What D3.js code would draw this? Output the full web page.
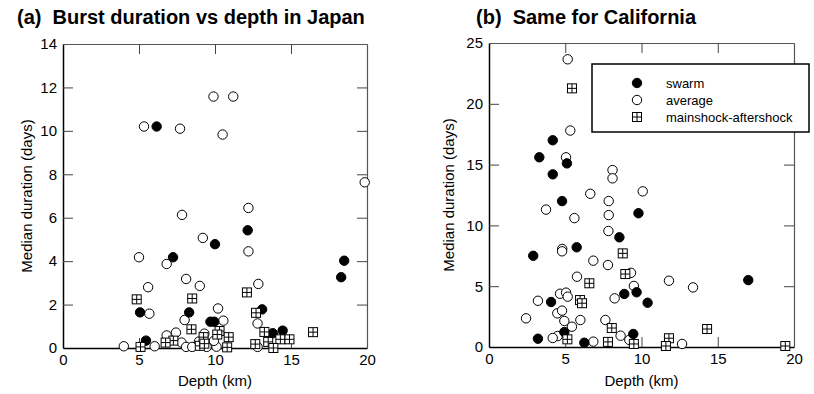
<!DOCTYPE html>
<html>
<head>
<meta charset="utf-8">
<script src="https://cdn.jsdelivr.net/npm/d3@7"></script>
<style>
  body { margin: 0; background: #fff; }
  text { font-family: "Liberation Sans", Arial, sans-serif; }
  .title { font-family: "Liberation Sans Narrow", "Arial Narrow", "Liberation Sans", sans-serif; font-weight: bold; font-size: 20px; white-space: pre; }
</style>
</head>
<body>
<svg width="814" height="394"></svg>
<script>
// Japan: [depth km, median duration days]
const japanSwarm = [
  [6.16, 10.2], [12.15, 5.42], [10.0, 4.78], [7.24, 4.18], [18.5, 4.02], [18.3, 3.26],
  [5.07, 1.64], [8.3, 1.64], [13.1, 1.78], [9.7, 1.21], [9.95, 1.21], [13.8, 0.68],
  [14.45, 0.8], [5.46, 0.34]
];
const japanAverage = [
  [5.33, 10.2], [7.7, 10.1], [9.9, 11.58], [11.2, 11.58], [10.5, 9.83], [19.85, 7.63],
  [7.83, 6.13], [12.2, 6.45], [9.2, 5.07], [12.2, 4.45], [5.0, 4.18], [6.82, 3.87],
  [8.1, 3.18], [9.0, 2.86], [5.6, 2.8], [12.85, 2.95], [5.68, 1.58], [10.2, 1.82],
  [8.0, 1.29], [10.55, 1.26], [12.8, 1.13], [7.43, 0.71], [6.82, 0.58], [9.3, 0.66],
  [4.0, 0.08], [6.03, 0.08], [7.8, 0.25], [8.1, 0.05], [8.5, 0.05], [9.45, 0.05],
  [10.1, 0.06], [9.93, 0.33], [12.8, 0.05], [8.95, 0.3]
];
const japanMainshock = [
  [12.1, 2.56], [8.5, 2.28], [4.85, 2.24], [12.7, 1.62], [8.45, 0.86], [10.3, 0.78],
  [10.15, 0.62], [10.9, 0.5], [13.25, 0.74], [14.3, 0.4], [14.9, 0.4], [16.45, 0.73],
  [5.1, 0.05], [7.26, 0.34], [6.75, 0.25], [9.0, 0.1], [9.25, 0.5], [10.8, 0.03],
  [12.65, 0.18], [13.5, 0.28], [13.84, 0.0], [9.3, 0.2]
];

// California
const califSwarm = [
  [4.18, 17.0], [3.3, 15.6], [5.11, 15.1], [4.18, 14.2], [4.79, 12.0], [9.8, 11.0],
  [8.55, 9.02], [5.75, 8.2], [2.9, 7.5], [17.0, 5.5], [8.87, 4.36], [9.68, 4.5],
  [10.4, 3.64], [4.07, 3.7], [4.94, 1.23], [9.46, 1.07], [3.21, 0.68], [6.25, 0.35]
];
const califAverage = [
  [5.16, 23.66], [5.33, 17.8], [5.05, 15.6], [8.1, 14.55], [8.1, 13.87], [10.08, 12.8],
  [6.64, 12.6], [7.85, 12.0], [3.74, 11.3], [7.85, 10.85], [5.6, 10.6], [7.83, 9.54],
  [4.8, 8.06], [4.79, 7.87], [6.84, 7.1], [7.8, 6.74], [9.31, 6.1], [5.77, 5.78],
  [9.5, 5.02], [11.8, 5.45], [13.38, 4.9], [4.66, 4.38], [5.05, 4.47], [5.16, 4.14],
  [8.24, 4.0], [3.21, 3.8], [4.48, 2.77], [4.79, 2.99], [2.43, 2.36], [4.94, 2.14],
  [5.99, 2.22], [7.63, 2.22], [5.44, 1.67], [8.63, 0.93], [4.5, 0.9], [4.18, 0.74],
  [9.2, 0.58], [6.84, 0.44], [12.66, 0.25]
];
const califMainshock = [
  [5.44, 21.27], [8.77, 7.7], [8.94, 6.0], [6.58, 5.24], [5.97, 3.86], [6.1, 3.6],
  [8.05, 1.56], [5.14, 0.63], [7.8, 0.42], [9.5, 0.25], [11.8, 0.72], [11.6, 0.08],
  [14.3, 1.48], [19.43, 0.08]
];

const xTicks = [0, 5, 10, 15, 20];
const japanYTicks = [0, 2, 4, 6, 8, 10, 12, 14];
const califYTicks = [0, 5, 10, 15, 20, 25];
const legendLabels = ['swarm', 'average', 'mainshock-aftershock'];

const svg = d3.select('svg');
svg.append('rect').attr('width', 814).attr('height', 394).attr('fill', '#fff');

function drawPanel(opts) {
  const x = d3.scaleLinear().domain([0, 20]).range([opts.left, opts.right]);
  const y = d3.scaleLinear().domain([0, opts.ymax]).range([opts.bottom, opts.top]);
  const g = svg.append('g');

  const bottom = g.append('g').attr('transform', `translate(0,${opts.bottom})`)
    .call(d3.axisBottom(x).tickValues(xTicks).tickSize(-10).tickSizeOuter(0).tickPadding(6));
  const top = g.append('g').attr('transform', `translate(0,${opts.top})`)
    .call(d3.axisTop(x).tickValues(xTicks).tickSize(-10).tickSizeOuter(0).tickFormat(''));
  const left = g.append('g').attr('transform', `translate(${opts.left},0)`)
    .call(d3.axisLeft(y).tickValues(opts.yTicks).tickSize(-10).tickSizeOuter(0).tickPadding(6));
  const right = g.append('g').attr('transform', `translate(${opts.right},0)`)
    .call(d3.axisRight(y).tickValues(opts.yTicks).tickSize(-10).tickSizeOuter(0).tickFormat(''));

  [bottom, left].forEach(a => {
    a.select('.domain').attr('stroke', '#000').attr('stroke-width', 1.5);
    a.selectAll('.tick line').attr('stroke', '#444');
    a.selectAll('text').attr('font-size', 15).attr('fill', '#000')
      .style('font-family', '"Liberation Sans", Arial, sans-serif');
  });
  [top, right].forEach(a => {
    a.select('.domain').attr('stroke', '#555').attr('stroke-width', 1.2);
    a.selectAll('.tick line').attr('stroke', '#444');
  });

  // ticks at the frame corners are hidden by the frame itself
  bottom.selectAll('.tick line').filter(d => d === 0 || d === 20).remove();
  top.selectAll('.tick line').filter(d => d === 0 || d === 20).remove();
  left.selectAll('.tick line').filter(d => d === 0 || d === opts.ymax).remove();
  right.selectAll('.tick line').filter(d => d === 0 || d === opts.ymax).remove();

  g.append('text').attr('x', (opts.left + opts.right) / 2).attr('y', 386)
    .attr('text-anchor', 'middle').attr('font-size', 15).text('Depth (km)');
  g.append('text')
    .attr('transform', `translate(${opts.labelX},${(opts.top + opts.bottom) / 2}) rotate(-90)`)
    .attr('text-anchor', 'middle').attr('font-size', 15).text('Median duration (days)');
  g.append('text').attr('class', 'title').attr('x', opts.titleX).attr('y', 24).text(opts.title);

  drawPoints(g, opts.average, 'average', x, y);
  drawPoints(g, opts.swarm, 'swarm', x, y);
  drawPoints(g, opts.mainshock, 'mainshock', x, y);
  return g;
}

function symbol(sel, kind) {
  if (kind === 'mainshock') {
    sel.append('rect').attr('x', -4.5).attr('y', -4.5).attr('width', 9).attr('height', 9)
      .attr('fill', '#fff').attr('stroke', '#000').attr('stroke-width', 1);
    sel.append('path').attr('d', 'M0,-4.5V4.5M-4.5,0H4.5').attr('stroke', '#000').attr('stroke-width', 1);
  } else {
    sel.append('circle').attr('r', 4.7)
      .attr('fill', kind === 'swarm' ? '#000' : '#fff')
      .attr('stroke', '#000').attr('stroke-width', 1);
  }
}

function drawPoints(g, data, kind, x, y) {
  g.append('g').selectAll('g').data(data).enter().append('g')
    .attr('transform', d => `translate(${x(d[0])},${y(d[1])})`)
    .each(function() { symbol(d3.select(this), kind); });
}

drawPanel({
  left: 63, right: 367, top: 44, bottom: 348, ymax: 14, yTicks: japanYTicks,
  labelX: 32, titleX: 17, title: '(a)  Burst duration vs depth in Japan',
  swarm: japanSwarm, average: japanAverage, mainshock: japanMainshock
});
drawPanel({
  left: 489, right: 794, top: 43, bottom: 347, ymax: 25, yTicks: califYTicks,
  labelX: 454, titleX: 476, title: '(b)  Same for California',
  swarm: califSwarm, average: califAverage, mainshock: califMainshock
});

// legend (right panel)
const legend = svg.append('g');
legend.append('rect').attr('x', 592).attr('y', 64).attr('width', 217).attr('height', 68)
  .attr('fill', '#fff').attr('stroke', '#000').attr('stroke-width', 1.5);
const kinds = ['swarm', 'average', 'mainshock'];
legendLabels.forEach((lab, i) => {
  const row = legend.append('g').attr('transform', `translate(637,${83 + i * 17})`);
  symbol(row, kinds[i]);
  row.append('text').attr('x', 29).attr('y', 4.5).attr('font-size', 13).text(lab);
});
</script>
</body>
</html>
